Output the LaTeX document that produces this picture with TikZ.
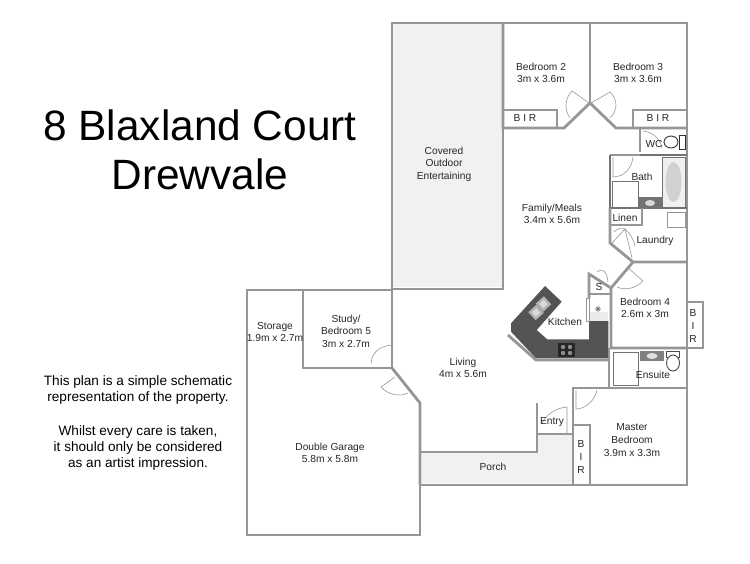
\documentclass[tikz,border=0pt]{standalone}
\usepackage{fontspec}
\setmainfont{Liberation Sans}
\definecolor{fpwall}{RGB}{150,150,150}
\definecolor{fpdark}{RGB}{84,84,84}
\definecolor{fppaved}{RGB}{241,241,241}
\definecolor{fpdoor}{RGB}{150,150,150}
\tikzstyle{wall} = [draw=fpwall, line width=2.8pt, line join=miter]
\tikzstyle{thinwall} = [draw=fpwall, line width=1.6pt]
\tikzstyle{door} = [draw=fpdoor, line width=0.6pt]
\tikzstyle{room} = [font=\fontsize{10.2}{12.6}\selectfont, align=center, inner sep=0pt, text=black!85]
\tikzstyle{fixture} = [draw=fpwall, fill=white, line width=0.9pt]
\begin{document}
\begin{tikzpicture}[x=1pt,y=-1pt]
\useasboundingbox (0,0) rectangle (750,563);
% Paved areas
\fill[fppaved] (393,24) rectangle (502,287);
\fill[fppaved] (422,452) -- (537,452) -- (537,435) -- (572,435) -- (572,483) -- (422,483) -- cycle;

% Kitchen bench
\fill[fpdark] (545,286) -- (561.7,301.7) -- (536.7,330) -- (547.3,339.3) -- (589,339.3) -- (589,321) -- (608.3,321) -- (608.3,358.3) -- (536,358.3) -- (511,331.7) -- (511,323.3) -- cycle;
\draw[fixture] (586,298) rectangle (589,321);
\fill[white] (589.5,298) rectangle (608.3,321);
\fill[black!8] (589.5,312) rectangle (608.3,321);
\draw[black!55, line width=0.6pt] (595,309) -- (601,309) (598,306) -- (598,312) (596,307) -- (600,311) (600,307) -- (596,311);
\foreach \sx/\sy in {543.5/304,536/312.5}{
  \fill[black!30,rotate around={42:(\sx,\sy)}] (\sx-5.5,\sy-5.5) rectangle (\sx+5.5,\sy+5.5);
  \fill[black!15,rotate around={42:(\sx,\sy)}] (\sx-3,\sy-3) rectangle (\sx+3,\sy+3);
}
\fill[black!85] (558,343) rectangle (575,357);
\foreach \hx/\hy in {563/347,570/347,563/353,570/353}
  \fill[black!45] (\hx,\hy) circle (2.2pt);

% Outer and inner walls
\draw[wall] (392,289) -- (392,23) -- (687,23) -- (687,485) -- (420,485) -- (420,535) -- (247,535) -- (247,290) -- (392,290);
\draw[wall] (392,289) -- (503,289) -- (503,128);
\draw[wall] (503,23) -- (503,128) -- (564,128) -- (590,103) -- (616,128) -- (687,128);
\draw[wall] (590,23) -- (590,103);
\draw[wall] (557,128) -- (557,110) -- (503,110);
\draw[wall] (633,128) -- (633,110) -- (687,110);
\draw[wall] (303,290) -- (303,368) -- (392,368) -- (392,290);
\draw[wall] (392,368) -- (420,403) -- (420,485);
\draw[wall] (420,452) -- (537,452) -- (537,403);
\draw[wall] (573,485) -- (573,388) -- (687,388);
\draw[wall] (573,425) -- (590,425) -- (590,485);
\draw[thinwall] (537,434) -- (573,434);
\draw[thinwall] (640,128) -- (640,152);
\draw[thinwall] (610,155) -- (640,155);
\draw[wall, draw=black!55] (640,155) -- (687,155);
\draw[wall, draw=black!55] (610,155) -- (610,208) -- (687,208);
\draw[thinwall] (642,208) -- (642,225) -- (610,225);
\draw[wall] (610,208) -- (610,243) -- (633,262) -- (687,262);
\draw[wall] (633,262) -- (611,288) -- (611,348) -- (687,348);
\draw[wall] (687,302) -- (703,302) -- (703,348) -- (687,348);
\draw[wall] (589,298) -- (589,274) -- (611,288);
\draw[wall] (589,294) -- (610,294);
\draw[wall] (609,348) -- (609,388);
\draw[wall] (508,335) -- (536,360) -- (609,360);

% Doors
\draw[door] (570,118) .. controls (563,108) and (566,97) .. (572,91) -- (589,103);
\draw[door] (591,103) -- (610,92) .. controls (618,100) and (618,110) .. (610,118);
\draw[door] (643,131) .. controls (652,132) and (660,138) .. (662,148);
\draw[door] (613,157) -- (613,177) .. controls (624,177) and (632,168) .. (633,157);
\draw[door] (612,243) -- (625,229) -- (632,258);
\draw[door] (614,232) .. controls (618,228) and (622,227) .. (625,229) .. controls (630,233) and (634,240) .. (635,246);
\draw[door] (597,272) .. controls (601,268) and (607,270) .. (608,282);
\draw[door] (643,281) -- (627,267);
\draw[door] (617,287) .. controls (626,291) and (636,288) .. (643,281);
\draw[door] (576,390) -- (576,409) .. controls (586,409) and (595,400) .. (597,390);
\draw[door] (542,423) .. controls (546,415) and (555,408) .. (567,407) -- (567,433);
\draw[door] (371,363) .. controls (372,352) and (380,346) .. (392,345);
\draw[door] (395,377) -- (381,387) .. controls (388,395) and (400,397) .. (408,393);

% Fixtures
\draw[fixture, draw=black!55, fill=black!6] (662,157) rectangle (685,207);
\fill[black!18] (673.5,182) ellipse (8pt and 20pt);
\draw[fixture, draw=black!55] (612,181) rectangle (638,207);
\fill[black!55] (638,197) rectangle (662,208);
\fill[black!15] (650,203) ellipse (5pt and 3pt);
\draw[fixture, draw=black!80] (679,135) rectangle (685,149);
\draw[fixture, draw=black!80] (671,142) ellipse (7pt and 6pt);
\draw[fixture] (667,212) rectangle (685,227);
\draw[fixture, draw=black!55] (613,352) rectangle (638,385);
\fill[black!50] (640,351) rectangle (664,361);
\fill[black!12] (652,356) ellipse (5.5pt and 3pt);
\draw[fixture, draw=black!70] (666,351) rectangle (679,357);
\draw[fixture, draw=black!70] (673,363) ellipse (6.5pt and 8pt);

% Room labels
\node[room] (bed2) at (541,73) {Bedroom 2\\3m x 3.6m};
\node[room] (bed3) at (638,73) {Bedroom 3\\3m x 3.6m};
\node[room] (bir2) at (525,118) {B I R};
\node[room] (bir3) at (658,118) {B I R};
\node[room] (wc) at (654,144) {WC};
\node[room] (bath) at (642,177) {Bath};
\node[room] (linen) at (625,218) {Linen};
\node[room] (laundry) at (655,241) {Laundry};
\node[room] (family) at (552,214) {Family/Meals\\3.4m x 5.6m};
\node[room] (outdoor) at (444,164) {Covered\\Outdoor\\Entertaining};
\node[room] (sto) at (599,287) {S};
\node[room] (kitchen) at (565,322) {Kitchen};
\node[room] (bed4) at (645,308) {Bedroom 4\\2.6m x 3m};
\node[room] (bir4) at (693,326) {B\\I\\R};
\node[room] (ensuite) at (653,375) {Ensuite};
\node[room] (master) at (632,440) {Master\\Bedroom\\3.9m x 3.3m};
\node[room] (bir5) at (581,457) {B\\I\\R};
\node[room] (entry) at (552,422) {Entry};
\node[room] (porch) at (493,467) {Porch};
\node[room] (living) at (463,368) {Living\\4m x 5.6m};
\node[room] (study) at (346,331) {Study/\\Bedroom 5\\3m x 2.7m};
\node[room] (storage) at (275,332) {Storage\\1.9m x 2.7m};
\node[room] (garage) at (330,453) {Double Garage\\5.8m x 5.8m};

% Title and note
\node[font=\fontsize{42.4}{51}\selectfont, inner sep=0pt] (title1) at (200,125) {8 Blaxland Court};
\node[font=\fontsize{42.4}{51}\selectfont, inner sep=0pt] (title2) at (200,174) {Drewvale};
\node[font=\fontsize{13.6}{16}\selectfont, align=center, inner sep=0pt] (note) at (138,423) {This plan is a simple schematic\\representation of the property.\\[18pt]Whilst every care is taken,\\it should only be considered\\as an artist impression.};
\end{tikzpicture}
\end{document}
